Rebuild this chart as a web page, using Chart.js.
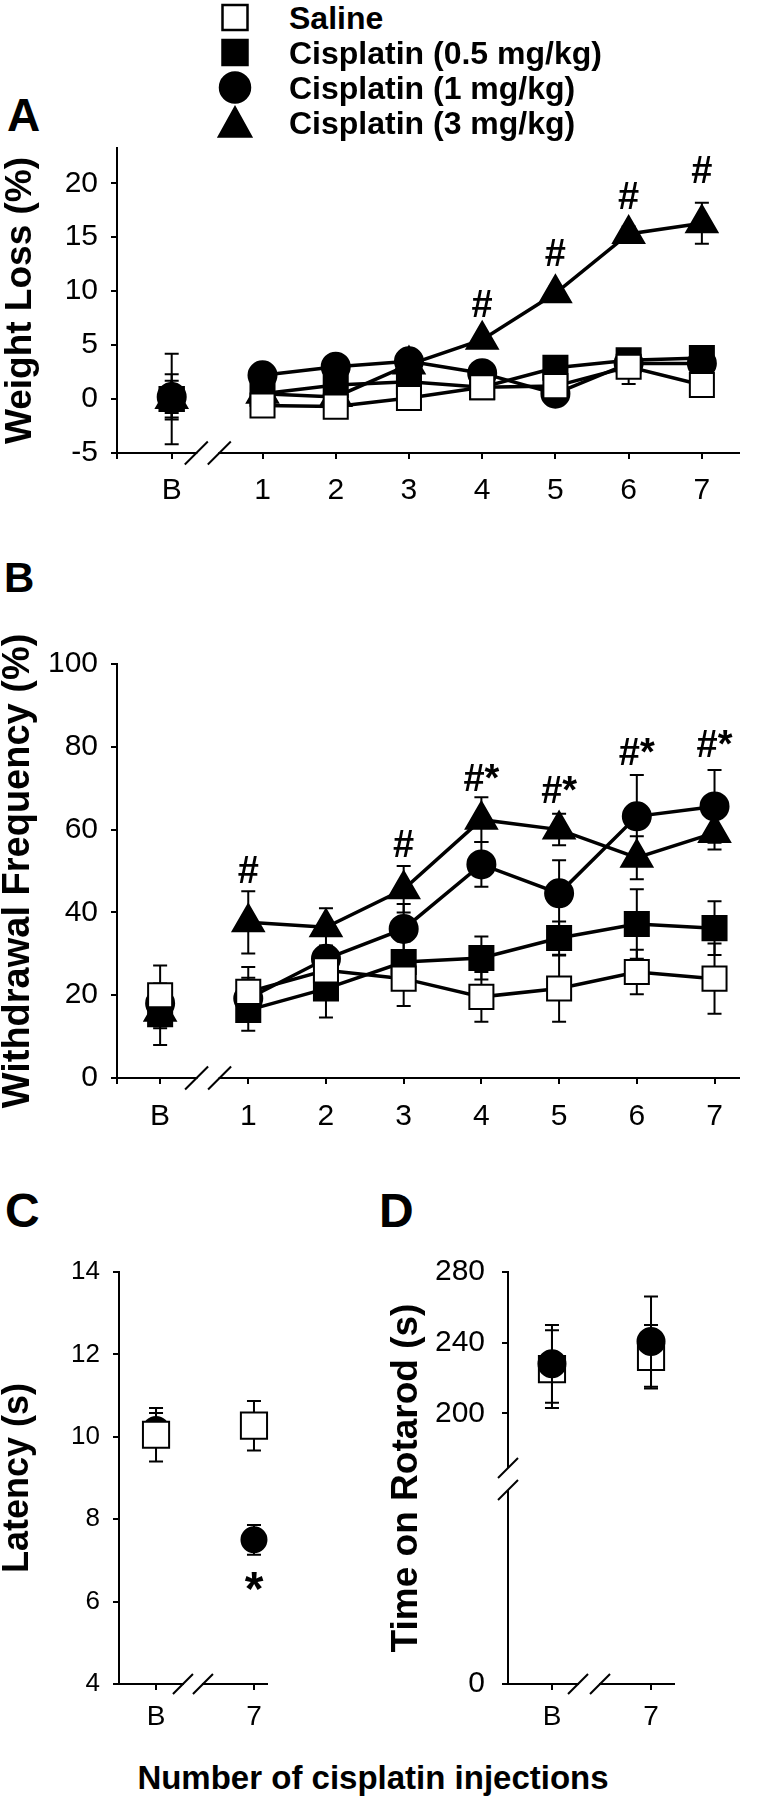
<!DOCTYPE html>
<html>
<head>
<meta charset="utf-8">
<title>Cisplatin: weight loss, withdrawal frequency, latency, rotarod</title>
<script src="https://cdn.jsdelivr.net/npm/chart.js@4.4.1/dist/chart.umd.min.js"></script>
<style>
  html, body { margin: 0; padding: 0; background: #fff; }
  #figure { position: relative; width: 759px; height: 1800px; overflow: hidden;
            font-family: "Liberation Sans", Arial, sans-serif; color: #000; }
  #figure canvas { position: absolute; }
  .panel-letter { position: absolute; font-weight: bold; line-height: 1; }
  .legend-text { position: absolute; left: 289px; font-size: 32px; font-weight: bold;
                 line-height: 1; white-space: nowrap; }
  #legendMarks { position: absolute; left: 0; top: 0; }
  #xTitle { position: absolute; left: 0; width: 746px; top: 1761px; text-align: center;
            font-size: 33px; font-weight: bold; line-height: 1; }
</style>
</head>
<body>
<div id="figure">
  <svg id="legendMarks" width="300" height="145"></svg>
  <div class="panel-letter" style="left:7px;top:92px;font-size:46px">A</div>
  <div class="panel-letter" style="left:4px;top:557px;font-size:42px">B</div>
  <div class="panel-letter" style="left:5px;top:1187px;font-size:48px">C</div>
  <div class="panel-letter" style="left:379px;top:1187px;font-size:48px">D</div>
  <canvas id="chartA" width="759" height="410" style="left:0;top:120px"></canvas>
  <canvas id="chartB" width="759" height="510" style="left:0;top:630px"></canvas>
  <canvas id="chartC" width="290" height="500" style="left:0;top:1240px"></canvas>
  <canvas id="chartD" width="320" height="500" style="left:380px;top:1240px"></canvas>
  <div id="xTitle">Number of cisplatin injections</div>
</div>

<script>
// ---- data ----
const injLabels = ['B', '1', '2', '3', '4', '5', '6', '7'];
const shortLabels = ['B', '7'];
const groupNames = ['Saline', 'Cisplatin (0.5 mg/kg)', 'Cisplatin (1 mg/kg)', 'Cisplatin (3 mg/kg)'];

// A: weight loss (%), mean and SEM
const wlSaline = [0, -0.6, -0.7, 0.1, 1.1, 1.2, 3.0, 1.3];
const wlSalineSem = [1.3, 0.5, 0.5, 0.5, 0.5, 0.9, 1.6, 0.5];
const wlLow = [0, 0.5, 1.3, 1.6, 1.1, 2.9, 3.6, 3.8];
const wlLowSem = [1.7, 0.4, 0.5, 0.5, 0.4, 0.5, 0.5, 0.4];
const wlMid = [0.2, 2.2, 3.0, 3.5, 2.4, 0.5, 3.3, 3.3];
const wlMidSem = [2.1, 0.5, 0.5, 0.6, 0.4, 0.9, 0.5, 0.5];
const wlHigh = [0, 0.5, 0.2, 3.2, 5.5, 9.8, 15.3, 16.3];
const wlHighSem = [4.2, 0.5, 0.5, 0.6, 0.5, 0.6, 0.7, 1.9];
const wlTicks = [-5, 0, 5, 10, 15, 20];
const wlSig = [[4, 8.6, '#'], [5, 13.3, '#'], [6, 18.6, '#'], [7, 21.0, '#']];

// B: withdrawal frequency (%), mean and SEM
const wfSaline = [20, 20.8, 26, 24, 19.6, 21.6, 25.6, 24];
const wfSalineSem = [7.2, 6, 6, 6.6, 6, 8, 5.4, 8.5];
const wfLow = [15.4, 16.4, 21.6, 28, 29, 33.8, 37.2, 36.2];
const wfLowSem = [7.4, 5, 7, 5, 5.2, 4, 8.4, 6.5];
const wfMid = [18, 19.2, 28.8, 36, 51.6, 44.6, 63.2, 65.6];
const wfMidSem = [4, 5, 3, 6, 5.4, 8, 10, 8.8];
const wfHigh = [16, 37.6, 36.4, 45.6, 62.4, 60, 53.2, 59.2];
const wfHighSem = [4, 7.5, 4.6, 5.6, 5.4, 3.8, 5.2, 4];
const wfTicks = [0, 20, 40, 60, 80, 100];
const wfSig = [[1, 49.6, '#'], [3, 56, '#'], [4, 71.8, '#*'], [5, 69, '#*'], [6, 78.2, '#*'], [7, 80, '#*']];

// C: latency (s)
const latSaline = [10.05, 10.27];
const latSalineSem = [0.65, 0.6];
const latMid = [10.18, 7.5];
const latMidSem = [0.4, 0.36];
const latTicks = [4, 6, 8, 10, 12, 14];
const latSig = [[1, 6.25, '*']];

// D: time on rotarod (s)
const rotSaline = [225, 232];
const rotSalineSem = [22, 18];
const rotMid = [228, 240.6];
const rotMidSem = [22, 25.5];
const rotTicks = [200, 240, 280];
const rotTickLabels = ['0', '200', '240', '280'];

// ---- styling ----
const FONT = '"Liberation Sans", Arial, sans-serif';
const groupStyle = [
  { pointStyle: 'rect', fill: '#fff', radius: 17 },
  { pointStyle: 'rect', fill: '#000', radius: 17 },
  { pointStyle: 'circle', fill: '#000', radius: 14 },
  { pointStyle: 'triangle', fill: '#000', radius: 18 }
];

// legend (html text + svg markers)
(function buildLegend() {
  const svg = document.getElementById('legendMarks');
  const ns = 'http://www.w3.org/2000/svg';
  const cx = 235;
  groupNames.forEach((name, g) => {
    const cy = 17.5 + g * 35;
    let el;
    if (g === 0 || g === 1) {
      el = document.createElementNS(ns, 'rect');
      el.setAttribute('x', cx - 12.5); el.setAttribute('y', cy - 12.5);
      el.setAttribute('width', 25); el.setAttribute('height', 25);
    } else if (g === 2) {
      el = document.createElementNS(ns, 'circle');
      el.setAttribute('cx', cx); el.setAttribute('cy', cy); el.setAttribute('r', 15);
    } else {
      el = document.createElementNS(ns, 'polygon');
      el.setAttribute('points', `${cx},${cy - 15} ${cx - 16},${cy + 14} ${cx + 16},${cy + 14}`);
    }
    el.setAttribute('fill', groupStyle[g].fill);
    el.setAttribute('stroke', '#000');
    el.setAttribute('stroke-width', 2.5);
    svg.appendChild(el);

    const div = document.createElement('div');
    div.className = 'legend-text';
    div.style.top = (cy - 15.6) + 'px';
    div.textContent = name;
    document.getElementById('figure').appendChild(div);
  });
})();

// ---- plugins ----
const errorBarPlugin = {
  id: 'errorBars',
  beforeDatasetDraw(chart, args) {
    const ds = chart.data.datasets[args.index];
    if (!ds.errorBars) return;
    const ys = chart.scales.y;
    const ctx = chart.ctx;
    ctx.save();
    ctx.strokeStyle = '#000';
    ctx.lineWidth = 2;
    args.meta.data.forEach((pt, i) => {
      const v = ds.data[i].y, e = ds.errorBars[i];
      const top = ys.getPixelForValue(v + e), bot = ys.getPixelForValue(v - e);
      ctx.beginPath();
      ctx.moveTo(pt.x, top); ctx.lineTo(pt.x, bot);
      ctx.moveTo(pt.x - 7, top); ctx.lineTo(pt.x + 7, top);
      ctx.moveTo(pt.x - 7, bot); ctx.lineTo(pt.x + 7, bot);
      ctx.stroke();
    });
    ctx.restore();
  }
};

const sigPlugin = {
  id: 'sigMarks',
  afterDatasetsDraw(chart, args, opts) {
    if (!opts.marks) return;
    const ctx = chart.ctx;
    ctx.save();
    ctx.fillStyle = '#000';
    ctx.font = `bold ${opts.size}px ${FONT}`;
    ctx.textAlign = 'center';
    ctx.textBaseline = 'middle';
    opts.marks.forEach(([i, y, t]) => {
      ctx.fillText(t, chart.scales.x.getPixelForValue(opts.pos[i]), chart.scales.y.getPixelForValue(y));
    });
    ctx.restore();
  }
};

// axis break marks ("//") drawn on the scales
const breakPlugin = {
  id: 'axisBreaks',
  afterDraw(chart, args, opts) {
    const ctx = chart.ctx;
    const { left, top, bottom } = chart.chartArea;
    const g = opts.gap, h = opts.size;
    ctx.save();
    ctx.strokeStyle = '#000';
    ctx.lineWidth = 2;
    if (opts.x != null) {
      const cx = chart.scales.x.getPixelForValue(opts.x);
      ctx.fillStyle = '#fff';
      ctx.fillRect(cx - g / 2 + 1, bottom - 3, g - 2, 6);
      [cx - g / 2, cx + g / 2].forEach(px => {
        ctx.beginPath();
        ctx.moveTo(px - h / 2, bottom + h / 2);
        ctx.lineTo(px + h / 2, bottom - h / 2);
        ctx.stroke();
      });
    }
    if (opts.y != null) {
      const cy = chart.scales.y.getPixelForValue(opts.y);
      ctx.beginPath();
      ctx.moveTo(left, top - 1); ctx.lineTo(left, cy - g / 2);
      ctx.moveTo(left, cy + g / 2); ctx.lineTo(left, bottom + 1);
      ctx.stroke();
      [cy - g / 2, cy + g / 2].forEach(py => {
        ctx.beginPath();
        ctx.moveTo(left - h / 2, py + h / 2);
        ctx.lineTo(left + h / 2, py - h / 2);
        ctx.stroke();
      });
    }
    ctx.restore();
  }
};

// ---- builders ----
// idx picks which time points go into this dataset (baseline is split off
// so it is not joined to the injection series and can be layered separately)
function series(g, pos, values, sem, idx, withLine, radius) {
  const st = groupStyle[g];
  return {
    label: groupNames[g],
    data: idx.map(i => ({ x: pos[i], y: values[i] })),
    errorBars: idx.map(i => sem[i]),
    pointStyle: st.pointStyle,
    pointRadius: radius || st.radius,
    pointHoverRadius: radius || st.radius,
    pointBackgroundColor: st.fill,
    pointBorderColor: '#000',
    pointBorderWidth: 2,
    borderColor: '#000',
    borderWidth: 3.5,
    showLine: withLine,
    clip: false
  };
}

function axisGrid() {
  return { display: true, drawOnChartArea: false, drawTicks: true, tickLength: 6,
           tickWidth: 2, tickColor: '#000', lineWidth: 2, color: '#000' };
}

function xAxis(min, max, tickPos, labels, size, pad, height) {
  return {
    type: 'linear', min, max,
    afterBuildTicks: s => { s.ticks = tickPos.map(v => ({ value: v })); },
    afterFit: s => { s.height = height; },
    ticks: { autoSkip: false, maxRotation: 0, color: '#000', padding: pad,
             font: { family: FONT, size, lineHeight: 1 },
             callback: (v, i) => labels[i] },
    grid: axisGrid(),
    border: { display: true, color: '#000', width: 2 }
  };
}

function yAxis(min, max, tickPos, labels, size, pad, width, title, titleSize, titlePad, border) {
  return {
    type: 'linear', min, max,
    afterBuildTicks: s => { s.ticks = tickPos.map(v => ({ value: v })); },
    afterFit: s => { s.width = width; },
    ticks: { autoSkip: false, color: '#000', padding: pad,
             font: { family: FONT, size, lineHeight: 1 },
             callback: (v, i) => labels[i] },
    grid: axisGrid(),
    border: { display: border, color: '#000', width: 2 },
    title: { display: true, text: title, color: '#000',
             font: { family: FONT, size: titleSize, weight: 'bold', lineHeight: 1 },
             padding: { top: titlePad, bottom: 0 } }
  };
}

function makeChart(id, datasets, scales, padding, pluginOpts) {
  return new Chart(document.getElementById(id), {
    type: 'scatter',
    data: { datasets },
    options: {
      responsive: false,
      animation: false,
      events: [],
      layout: { padding },
      scales,
      plugins: Object.assign({ legend: { display: false }, tooltip: { enabled: false } }, pluginOpts)
    },
    plugins: [errorBarPlugin, sigPlugin, breakPlugin]
  });
}

const base = [0];
const course = [1, 2, 3, 4, 5, 6, 7];

// ---- panel A ----
const posA = [-0.24, 1, 2, 3, 4, 5, 6, 7];
makeChart('chartA',
  [series(1, posA, wlLow, wlLowSem, base, false),
   series(2, posA, wlMid, wlMidSem, base, false),
   series(3, posA, wlHigh, wlHighSem, base, false),
   series(0, posA, wlSaline, wlSalineSem, base, false),
   series(0, posA, wlSaline, wlSalineSem, course, true),
   series(1, posA, wlLow, wlLowSem, course, true),
   series(2, posA, wlMid, wlMidSem, course, true),
   series(3, posA, wlHigh, wlHighSem, course, true)],
  {
    x: xAxis(-0.987, 7.507, [-0.987].concat(posA), [''].concat(injLabels), 30, 17, 77),
    y: yAxis(-5, 23.27, wlTicks, wlTicks.map(String), 30, 13, 117, 'Weight Loss (%)', 37, 2, true)
  },
  { top: 22, right: 5, left: 0, bottom: 0 },
  { sigMarks: { marks: wlSig, pos: posA, size: 38 }, axisBreaks: { x: 0.253, gap: 23, size: 23 } }
);

// ---- panel B ----
const posB = [-0.134, 1, 2, 3, 4, 5, 6, 7];
makeChart('chartB',
  [series(0, posB, wfSaline, wfSalineSem, base, false),
   series(2, posB, wfMid, wfMidSem, base, false),
   series(1, posB, wfLow, wfLowSem, base, false),
   series(3, posB, wfHigh, wfHighSem, base, false),
   series(0, posB, wfSaline, wfSalineSem, course, true),
   series(1, posB, wfLow, wfLowSem, course, true),
   series(2, posB, wfMid, wfMidSem, course, true),
   series(3, posB, wfHigh, wfHighSem, course, true)],
  {
    x: xAxis(-0.689, 7.315, [-0.689].concat(posB), [''].concat(injLabels), 30, 18, 62),
    y: yAxis(0, 100, wfTicks, wfTicks.map(String), 30, 13, 117, 'Withdrawal Frequency (%)', 38, 0, true)
  },
  { top: 34, right: 7, left: 0, bottom: 0 },
  { sigMarks: { marks: wfSig, pos: posB, size: 38 }, axisBreaks: { x: 0.483, gap: 23, size: 23 } }
);

// ---- panel C (saline vs 1 mg/kg) ----
const posCD = [0, 1];
const both = [0, 1];
makeChart('chartC',
  [series(0, posCD, latSaline, latSalineSem, both, false, 18.5),
   series(2, posCD, latMid, latMidSem, both, false, 12.5)],
  {
    x: xAxis(-0.378, 1.133, posCD, shortLabels, 28, 13, 56),
    y: yAxis(4, 14, latTicks, latTicks.map(String), 26, 13, 119, 'Latency (s)', 36, 0, true)
  },
  { top: 32, right: 23, left: 0, bottom: 0 },
  { sigMarks: { marks: latSig, pos: posCD, size: 48 }, axisBreaks: { x: 0.377, gap: 20, size: 20 } }
);

// ---- panel D (broken y axis: the bottom tick stands for 0) ----
const rotZeroPos = 46.8;
makeChart('chartD',
  [series(2, posCD, rotMid, rotMidSem, both, false, 13.5),
   series(0, posCD, rotSaline, rotSalineSem, both, false, 18.5)],
  {
    x: xAxis(-0.444, 1.232, posCD, shortLabels, 28, 13, 56),
    y: yAxis(rotZeroPos, 280, [rotZeroPos].concat(rotTicks), rotTickLabels, 30, 17, 128, 'Time on Rotarod (s)', 37, 8, false)
  },
  { top: 30, right: 26, left: 0, bottom: 0 },
  { axisBreaks: { x: 0.374, y: 162.8, gap: 22, size: 20 } }
);
</script>
</body>
</html>
